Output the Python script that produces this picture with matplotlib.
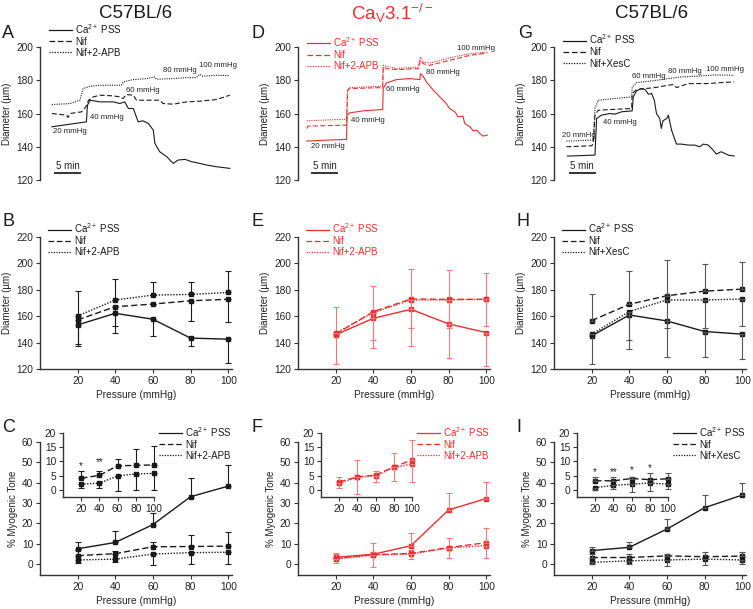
import matplotlib
matplotlib.use("Agg")
import matplotlib.pyplot as plt
from matplotlib.lines import Line2D

plt.rcParams['font.family'] = ['Liberation Sans', 'DejaVu Sans']
plt.rcParams['mathtext.fontset'] = 'custom'
plt.rcParams['mathtext.rm'] = 'Liberation Sans'
plt.rcParams['mathtext.it'] = 'Liberation Sans:italic'
plt.rcParams['mathtext.bf'] = 'Liberation Sans:bold'

# ---------------- data ----------------
pressure = [20, 40, 60, 80, 100]
lab_pss = 'Ca$^{2+}$ PSS'
lab_nif = 'Nif'
lab_apb = 'Nif+2-APB'
lab_xes = 'Nif+XesC'

# time traces (minutes, diameter um)
a_pss_t = [2.2, 8.6, 8.8, 9.3, 11.1, 13.6, 14.8, 15.7, 16.4, 17.3, 18.2, 19.1, 20.1, 21.0,
           21.3, 22.2, 23.5, 24.7, 25.6, 26.9, 28.1, 29.6, 30.9, 32.7, 35.2]
a_pss_d = [152, 155, 165, 168, 167, 167, 166, 167, 163, 163, 155, 155.6, 154, 150,
           142, 137, 134, 130, 132, 132.4, 131, 130, 129, 128, 127]
a_nif_t = [2.2, 4.9, 5.2, 5.6, 7.7, 8.5, 9.0, 9.9, 11.1, 13.6, 14.8, 15.4, 16.0, 17.3, 17.9,
           19.8, 22.2, 22.8, 24.7, 27.2, 29.6, 32.7, 35.2]
a_nif_d = [160, 159, 157.6, 160, 161, 164, 168, 170, 171, 170.6, 170, 169, 171.4, 171, 168,
           168, 168, 166, 165.6, 167, 167.4, 168.4, 171]
a_apb_t = [2.2, 5.6, 7.4, 8.0, 9.3, 11.1, 15.1, 15.4, 17.3, 19.8, 21.3, 21.6, 24.7, 27.2,
           29.0, 29.6, 30.2, 32.7, 35.2]
a_apb_d = [165.4, 166, 168, 175, 176.4, 177, 177, 179, 180.4, 181, 182, 180.6, 181, 181.6,
           181.6, 183.6, 182.4, 183, 182.8]

d_pss_t = [1.6, 5.3, 9.0, 9.1, 9.6, 12.1, 15.7, 15.8, 16.4, 18.3, 20.7, 22.6, 22.7, 23.2,
           23.8, 25.1, 26.3, 27.5, 28.1, 29.1, 29.7, 30.6, 30.9, 31.9, 32.5, 33.1, 33.7,
           34.3, 35.1]
d_pss_d = [143.4, 144, 144.4, 159, 160.4, 161.6, 162.4, 175, 178.4, 180.4, 181, 180.4, 184,
           182.4, 179, 174, 170, 166, 163, 161, 158, 158.4, 154, 152, 149.6, 150, 148,
           146.4, 147]
d_nif_t = [1.6, 1.9, 9.0, 9.2, 9.6, 15.7, 15.8, 16.4, 18.3, 22.3, 22.7, 23.2, 24.4, 26.9,
           29.4, 31.9, 35.1]
d_nif_d = [151, 152.4, 153, 174, 175, 175.6, 188, 187, 186.4, 187, 192, 190, 189, 191,
           193, 195, 196.4]
d_apb_t = [1.6, 9.0, 9.2, 9.6, 15.7, 15.8, 16.4, 18.3, 22.3, 22.7, 23.2, 24.4, 26.9, 29.4,
           31.9, 35.1]
d_apb_d = [155.6, 156.6, 174.4, 175.6, 176.4, 189, 188.4, 187, 188, 194, 191, 190.4, 192.4,
           194.4, 196, 197]

g_pss_t = [2.5, 4.5, 7.6, 7.9, 8.8, 10.4, 11.3, 12.5, 14.5, 14.7, 15.3, 16.2, 16.9, 17.5,
           18.1, 18.6, 19.0, 19.6, 19.9, 20.2, 20.9, 21.2, 21.8, 22.7, 23.6, 24.9, 26.1,
           27.0, 27.7, 28.6, 29.5, 30.1, 31.0, 32.3, 33.4]
g_pss_d = [134.4, 134.6, 135, 157, 159, 160, 159.6, 161, 161.6, 170, 173.6, 175, 174.4,
           171.6, 172, 168, 160, 157, 151, 155.6, 157, 159, 150, 141.6, 141.6, 141, 141,
           140, 141.6, 141, 138, 135.6, 137, 135, 134.4]
g_nif_t = [2.3, 7.0, 7.3, 7.6, 8.2, 10.7, 14.4, 14.5, 15.3, 18.7, 21.2, 22.1, 22.7, 24.9,
           28.6, 31.0, 33.4]
g_nif_d = [140, 140.6, 142, 159, 162, 162.4, 163, 172, 174.4, 175.6, 177, 177.4, 175.6,
           178, 178, 178.6, 179]
g_xes_t = [2.3, 7.3, 7.6, 8.2, 11.3, 14.4, 14.5, 15.3, 18.1, 21.2, 23.6, 27.3, 29.8, 33.4]
g_xes_d = [143.4, 144, 163, 168, 169, 170, 175.6, 178.6, 179.6, 181, 182, 182.6, 183.2, 183]

step_labels = ['20 mmHg', '40 mmHg', '60 mmHg', '80 mmHg', '100 mmHg']
a_note_t = [2.5, 9.3, 16.0, 22.8, 29.4]
a_note_d = [149, 157.6, 174, 185.6, 189]
d_note_t = [2.5, 9.9, 16.4, 23.7, 29.4]
d_note_d = [140, 156, 174.4, 184.4, 199]
g_note_t = [1.4, 9.1, 14.5, 21.2, 28.1]
g_note_d = [147, 154.6, 182, 185.4, 186.4]
a_bar = [2.6, 7.6]
d_bar = [2.5, 7.5]
g_bar = [2.8, 7.7]

# diameter vs pressure (mean, lower err, upper err)
b_pss = [153.4, 162.2, 157.7, 143.4, 142.6]
b_pss_lo = [15.6, 15.0, 12.6, 6.3, 18.1]
b_nif = [157.2, 167.2, 169.2, 171.7, 172.8]
b_nif_lo = [18.0, 14.5, 0, 15.3, 16.9]
b_apb = [160.2, 172.3, 176.0, 176.5, 178.0]
b_apb_up = [19.1, 15.8, 10.1, 9.6, 16.1]

e_pss = [145.9, 158.4, 165.2, 154.2, 147.6]
e_pss_lo = [22.2, 22.6, 28.1, 25.9, 25.6]
e_nif = [146.4, 163.5, 173.0, 172.8, 172.8]
e_nif_up = [20.8, 19.5, 22.4, 22.1, 20.1]
e_apb = [147.1, 162.7, 172.3, 172.3, 172.8]
e_apb_lo = [0, 21.1, 20.9, 20.9, 19.9]

h_pss = [145.1, 160.9, 156.4, 148.4, 146.4]
h_pss_lo = [21.1, 25.8, 27.4, 19.6, 18.9]
h_nif = [156.7, 169.0, 175.5, 179.0, 180.5]
h_nif_up = [20.1, 25.4, 26.9, 20.4, 20.7]
h_xes = [146.4, 163.5, 172.3, 172.3, 173.0]
h_xes_lo = [0, 21.9, 20.9, 20.9, 20.1]

# % myogenic tone
c_pss = [7.5, 10.6, 19.4, 33.1, 38.3]
c_pss_up = [3.3, 5.7, 5.5, 9.3, 10.3]
c_nif = [4.1, 5.1, 8.5, 8.6, 8.8]
c_nif_up = [2.6, 1.4, 2.3, 5.8, 6.7]
c_apb = [2.0, 2.4, 4.9, 5.6, 5.8]
c_apb_lo = [1.4, 1.6, 5.3, 5.8, 5.8]

f_pss = [3.3, 4.8, 9.0, 26.6, 32.2]
f_pss_up = [2.0, 1.0, 6.1, 8.2, 8.2]
f_nif = [2.8, 4.6, 5.2, 8.1, 10.5]
f_nif_up = [1.9, 5.9, 1.5, 4.7, 7.0]
f_apb = [2.4, 4.4, 4.9, 7.9, 9.1]
f_apb_lo = [1.8, 5.9, 2.3, 4.7, 6.2]

i_pss = [6.6, 8.2, 17.2, 27.7, 33.9]
i_pss_up = [1.9, 2.8, 4.9, 6.2, 5.8]
i_nif = [3.2, 3.2, 4.0, 3.6, 3.9]
i_nif_up = [1.5, 1.5, 0.7, 2.5, 2.2]
i_xes = [0.8, 1.6, 2.0, 2.4, 2.0]
i_xes_lo = [0.8, 1.4, 2.9, 2.8, 1.8]

c_star_x = [20, 40]
c_star_y = [8.5, 9.8]
c_star_txt = ['*', '**']
i_star_x = [20, 40, 60, 80]
i_star_y = [6.3, 6.3, 6.8, 7.6]
i_star_txt = ['*', '**', '*', '*']

# ---------------- layout ----------------
W, H = 753, 609
BLACK = '#1a1a1a'
RED = '#ee2e2e'
RED_ERR = '#f27a7a'
SOLID = '-'
DASH = (0, (4.5, 2.2))
DOT = (0, (1.0, 1.1))
FS = 7.3

fig = plt.figure(figsize=(W / 100, H / 100), dpi=100)


def box(left, top, right, bottom):
    return [left / W, 1 - bottom / H, (right - left) / W, (bottom - top) / H]


def style_axes(ax, bottom=True):
    for s in ['top', 'right']:
        ax.spines[s].set_visible(False)
    ax.spines['left'].set_color('#333333')
    ax.spines['left'].set_linewidth(1.0)
    if bottom:
        ax.spines['bottom'].set_color('#333333')
        ax.spines['bottom'].set_linewidth(1.0)
    else:
        ax.spines['bottom'].set_visible(False)
        ax.set_xticks([])
    ax.tick_params(direction='out', length=3, width=0.8, labelsize=FS, pad=2,
                   colors='#333333', labelcolor='#222222')
    ax.patch.set_alpha(0)


def add_legend(ax, color, labels, loc, anchor):
    # legend shows plain line styles only (no markers)
    handles = [Line2D([], [], color=color, ls=ls, lw=0.9) for ls in [SOLID, DASH, DOT]]
    leg = ax.legend(handles, labels, loc=loc, bbox_to_anchor=anchor,
                    frameon=False, fontsize=7, handlelength=2.4, handletextpad=0.35,
                    labelspacing=0.12, borderpad=0, borderaxespad=0)
    for t in leg.get_texts():
        t.set_color(color)
    return leg


def trace_panel(left, series, labels, note_t, note_d, bar, color, leg_y):
    ax = fig.add_axes(box(left, 47, left + 192, 180))
    for (t, d), ls in zip(series, [SOLID, DASH, DOT]):
        ax.plot(t, d, color=color, ls=ls, lw=0.8)
    for tx, dy, txt in zip(note_t, note_d, step_labels):
        ax.text(tx, dy, txt, fontsize=5.6, va='center', ha='left', color='#222222')
    ax.plot(bar, [124, 124], color='#222222', lw=1.3, solid_capstyle='butt')
    ax.text((bar[0] + bar[1]) / 2, 125.2, '5 min', ha='center', va='bottom', fontsize=7,
            color='#222222')
    ax.set_xlim(0, 35.6)
    ax.set_ylim(120, 200)
    ax.set_yticks([120, 140, 160, 180, 200])
    style_axes(ax, bottom=False)
    ax.set_ylabel('Diameter (\u00b5m)', fontsize=7, labelpad=3, color='#222222')
    add_legend(ax, color, labels, 'upper left', (0.045, leg_y))
    return ax


def curve(ax, y, lo, up, ls, color, ecolor):
    ax.plot(pressure, y, color=color, ls=ls, lw=1.0, marker='s', ms=2.4, clip_on=False)
    ax.errorbar(pressure, y, yerr=[lo, up], fmt='none', ecolor=ecolor, elinewidth=0.8,
                capsize=2, capthick=0.8, clip_on=False)


def diam_panel(left, data, labels, color, ecolor):
    ax = fig.add_axes(box(left, 237, left + 192, 369))
    for (y, lo, up), ls in zip(data, [SOLID, DASH, DOT]):
        curve(ax, y, lo, up, ls, color, ecolor)
    ax.set_xlim(0, 102)
    ax.set_ylim(120, 220)
    ax.set_xticks(pressure)
    ax.set_yticks([120, 140, 160, 180, 200, 220])
    style_axes(ax)
    ax.set_ylabel('Diameter (\u00b5m)', fontsize=7, labelpad=3, color='#222222')
    ax.set_xlabel('Pressure (mmHg)', fontsize=FS, labelpad=3, color='#222222')
    add_legend(ax, color, labels, 'upper left', (0.04, 1.12))
    return ax


def tone_panel(left, data, labels, color, ecolor, inset_left, stars):
    ax = fig.add_axes(box(left, 442, left + 192, 575))
    for (y, lo, up), ls in zip(data, [SOLID, DASH, DOT]):
        curve(ax, y, lo, up, ls, color, ecolor)
    ax.set_xlim(0, 102)
    ax.set_ylim(-5.4, 60)
    ax.set_xticks(pressure)
    ax.set_yticks([0, 10, 20, 30, 40, 50, 60])
    style_axes(ax)
    ax.set_ylabel('% Myogenic Tone', fontsize=7, labelpad=3, color='#222222')
    ax.set_xlabel('Pressure (mmHg)', fontsize=FS, labelpad=3, color='#222222')
    add_legend(ax, color, labels, 'upper right', (1.0, 1.13))

    ins = fig.add_axes(box(inset_left, 433, inset_left + 91, 497))
    for (y, lo, up), ls in zip(data[1:], [DASH, DOT]):
        curve(ins, y, lo, up, ls, color, ecolor)
    ins.set_xlim(0, 100)
    ins.set_ylim(-2.5, 20)
    ins.set_xticks(pressure)
    ins.set_yticks([0, 5, 10, 15, 20])
    style_axes(ins)
    if stars:
        for sx, sy, st in zip(*stars):
            ins.text(sx, sy, st, ha='center', va='center', fontsize=7, color='#222222')
    return ax


cols = [40, 298, 554]

trace_panel(cols[0], [(a_pss_t, a_pss_d), (a_nif_t, a_nif_d), (a_apb_t, a_apb_d)],
            [lab_pss, lab_nif, lab_apb], a_note_t, a_note_d, a_bar, BLACK, 1.19)
trace_panel(cols[1], [(d_pss_t, d_pss_d), (d_nif_t, d_nif_d), (d_apb_t, d_apb_d)],
            [lab_pss, lab_nif, lab_apb], d_note_t, d_note_d, d_bar, RED, 1.09)
trace_panel(cols[2], [(g_pss_t, g_pss_d), (g_nif_t, g_nif_d), (g_xes_t, g_xes_d)],
            [lab_pss, lab_nif, lab_xes], g_note_t, g_note_d, g_bar, BLACK, 1.11)

zeros = [0, 0, 0, 0, 0]
diam_panel(cols[0], [(b_pss, b_pss_lo, zeros), (b_nif, b_nif_lo, zeros), (b_apb, zeros, b_apb_up)],
           [lab_pss, lab_nif, lab_apb], BLACK, BLACK)
diam_panel(cols[1], [(e_pss, e_pss_lo, zeros), (e_nif, zeros, e_nif_up), (e_apb, e_apb_lo, zeros)],
           [lab_pss, lab_nif, lab_apb], RED, RED_ERR)
diam_panel(cols[2], [(h_pss, h_pss_lo, zeros), (h_nif, zeros, h_nif_up), (h_xes, h_xes_lo, zeros)],
           [lab_pss, lab_nif, lab_xes], BLACK, '#555555')

tone_panel(cols[0], [(c_pss, zeros, c_pss_up), (c_nif, zeros, c_nif_up), (c_apb, c_apb_lo, zeros)],
           [lab_pss, lab_nif, lab_apb], BLACK, BLACK, 63, (c_star_x, c_star_y, c_star_txt))
tone_panel(cols[1], [(f_pss, zeros, f_pss_up), (f_nif, zeros, f_nif_up), (f_apb, f_apb_lo, zeros)],
           [lab_pss, lab_nif, lab_apb], RED, RED_ERR, 321, None)
tone_panel(cols[2], [(i_pss, zeros, i_pss_up), (i_nif, zeros, i_nif_up), (i_xes, i_xes_lo, zeros)],
           [lab_pss, lab_nif, lab_xes], BLACK, '#555555', 577, (i_star_x, i_star_y, i_star_txt))

# column titles
fig.text(136 / W, 1 - 13 / H, 'C57BL/6', ha='center', va='center', fontsize=13.5, color=BLACK)
fig.text(392 / W, 1 - 13 / H, 'Ca$_\\mathrm{V}$3.1$^{-/-}$', ha='center', va='center',
         fontsize=13.5, color=RED)
fig.text(652 / W, 1 - 13 / H, 'C57BL/6', ha='center', va='center', fontsize=13.5, color=BLACK)

# panel letters
letters = ['A', 'B', 'C', 'D', 'E', 'F', 'G', 'H', 'I']
letter_x = [2, 2, 2, 252, 252, 252, 518, 516, 516]
letter_y = [34, 222, 427, 34, 222, 427, 34, 222, 427]
for txt, lx, ly in zip(letters, letter_x, letter_y):
    fig.text(lx / W, 1 - ly / H, txt, ha='left', va='center', fontsize=13, color=BLACK)

fig.savefig('out.png', dpi=100)
